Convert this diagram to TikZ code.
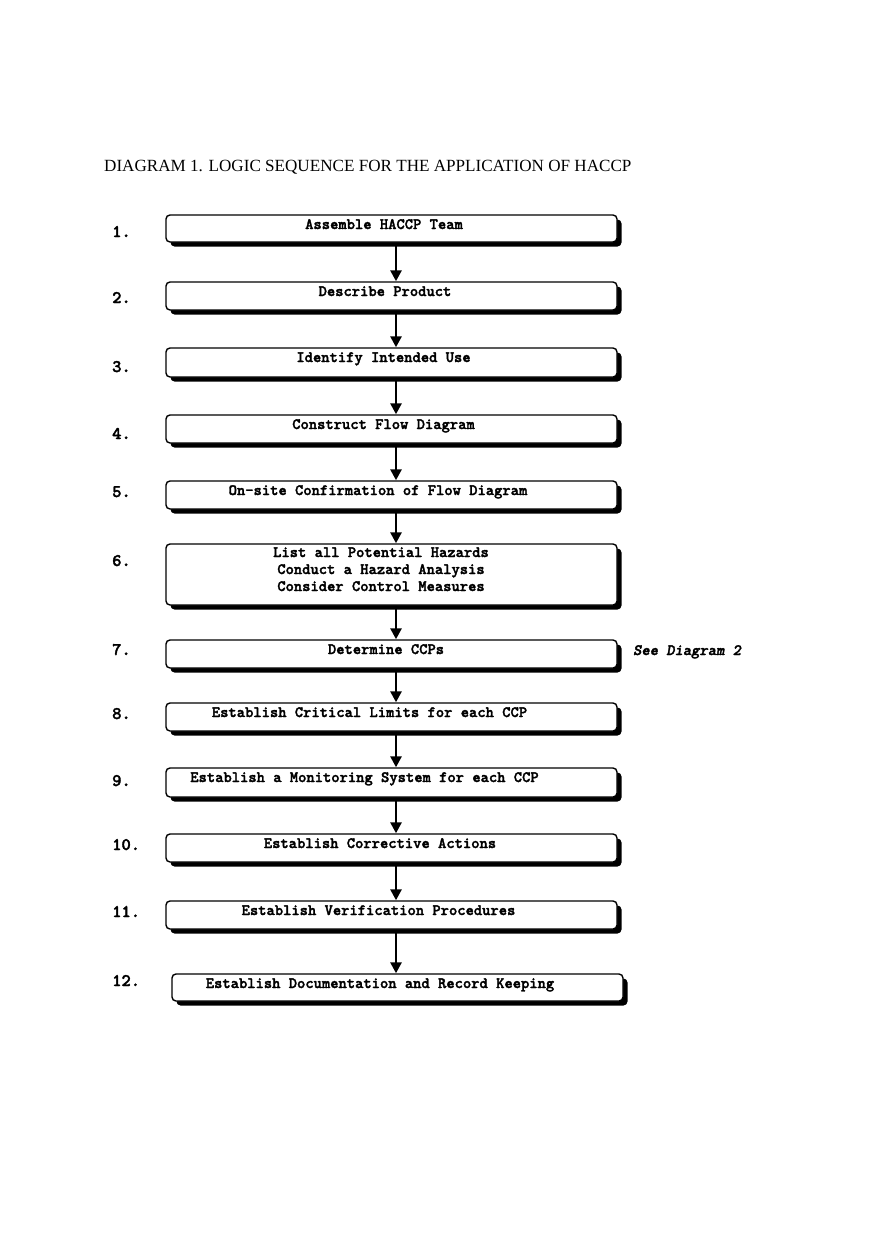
\documentclass[tikz,border=0pt]{standalone}
\usepackage{fontspec}
\setmainfont{Liberation Serif}
\newfontfamily\boxfont{lmmonolt10-bold}[Extension=.otf, ItalicFont=lmmonolt10-boldoblique, FakeBold=2]
\usetikzlibrary{arrows.meta,shadows}
\begin{document}
\begin{tikzpicture}[x=1pt,y=-1pt,
  box/.style={draw, line width=1.4pt, rounded corners=4pt, fill=white, inner sep=0pt,
     minimum width=451pt,
     drop shadow={shadow xshift=4.5pt, shadow yshift=-4.5pt, fill=black, opacity=1}},
  boxtext/.style={anchor=base, inner sep=0pt, font=\boxfont\fontsize{15.8}{17}\selectfont},
  num/.style={anchor=base west, inner sep=0pt, font=\boxfont\fontsize{17.7}{18}\selectfont},
  note/.style={anchor=base west, inner sep=0pt, font=\boxfont\itshape\fontsize{15.8}{17}\selectfont},
  arr/.style={line width=2.6pt, -{Triangle[width=11pt,length=11pt]}}]
\path[use as bounding box, fill=white] (0,0) rectangle (880,1247);

\node[anchor=base west, inner sep=0pt, font=\fontsize{17.1}{20}\selectfont] (title) at (104,171)
  {DIAGRAM 1. LOGIC SEQUENCE FOR THE APPLICATION OF HACCP};

\coordinate (ax) at (396,0);

% boxes
\node[box, minimum height=27pt] (b1) at (391.5,228.5) {};
\node[box, minimum height=28pt] (b2) at (391.5,296) {};
\node[box, minimum height=29pt] (b3) at (391.5,362.5) {};
\node[box, minimum height=28pt] (b4) at (391.5,429) {};
\node[box, minimum height=28pt] (b5) at (391.5,495) {};
\node[box, minimum height=61pt] (b6) at (391.5,574.5) {};
\node[box, minimum height=28pt] (b7) at (391.5,654) {};
\node[box, minimum height=28pt] (b8) at (391.5,717) {};
\node[box, minimum height=29pt] (b9) at (391.5,782.5) {};
\node[box, minimum height=28pt] (b10) at (391.5,848) {};
\node[box, minimum height=28pt] (b11) at (391.5,915) {};
\node[box, minimum height=27pt] (b12) at (397.5,987.5) {};

% texts
\node[boxtext] (t1) at (384,229) {Assemble HACCP Team};
\node[boxtext] (t2) at (385,296) {Describe Product};
\node[boxtext] (t3) at (383.5,362) {Identify Intended Use};
\node[boxtext] (t4) at (383.5,429) {Construct Flow Diagram};
\node[boxtext] (t5) at (378,495) {On-site Confirmation of Flow Diagram};
\node[boxtext] (t6a) at (381,557) {List all Potential Hazards};
\node[boxtext] (t6b) at (381,574) {Conduct a Hazard Analysis};
\node[boxtext] (t6c) at (381,591) {Consider Control Measures};
\node[boxtext] (t7) at (386,654) {Determine CCPs};
\node[boxtext] (t8) at (369.5,717) {Establish Critical Limits for each CCP};
\node[boxtext] (t9) at (364.5,782) {Establish a Monitoring System for each CCP};
\node[boxtext] (t10) at (380,848) {Establish Corrective Actions};
\node[boxtext] (t11) at (378.5,915) {Establish Verification Procedures};
\node[boxtext] (t12) at (380,988) {Establish Documentation and Record Keeping};

\node[note] (see) at (633,655) {See Diagram 2};

% numbers
\node[num] (n1) at (112,237) {1.};
\node[num] (n2) at (112,303) {2.};
\node[num] (n3) at (112,372) {3.};
\node[num] (n4) at (112,439) {4.};
\node[num] (n5) at (112,497) {5.};
\node[num] (n6) at (112,566) {6.};
\node[num] (n7) at (112,655) {7.};
\node[num] (n8) at (112,719) {8.};
\node[num] (n9) at (112,786) {9.};
\node[num] (n10) at (112,850) {10.};
\node[num] (n11) at (112,917) {11.};
\node[num] (n12) at (112,986) {12.};

% arrows
\foreach \a/\b in {b1/b2,b2/b3,b3/b4,b4/b5,b5/b6,b6/b7,b7/b8,b8/b9,b9/b10,b10/b11,b11/b12}
  \draw[arr] (\a.south -| ax) -- (\b.north -| ax);
\end{tikzpicture}
\end{document}
